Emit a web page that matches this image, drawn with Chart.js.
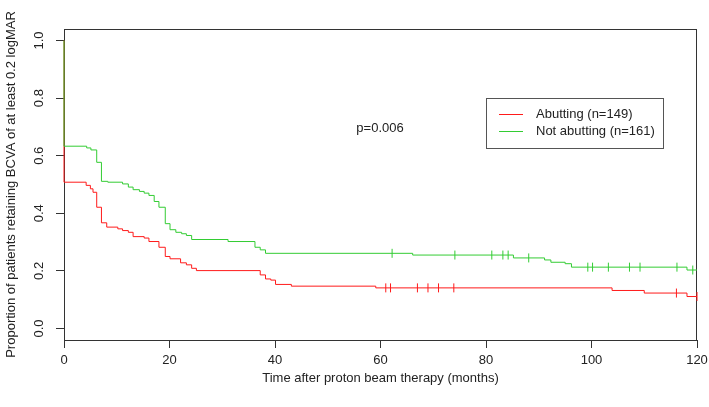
<!DOCTYPE html>
<html><head><meta charset="utf-8">
<script src="https://cdn.jsdelivr.net/npm/chart.js@4"></script>
<style>html,body{margin:0;padding:0;background:#fff}canvas{display:block}</style>
</head><body>
<canvas id="c" width="709" height="407"></canvas>
<script>
const xTicks = [0, 20, 40, 60, 80, 100, 120];
const yTicks = [0, 0.2, 0.4, 0.6, 0.8, 1.0];
const seriesNames = ['Abutting (n=149)', 'Not abutting (n=161)'];
const pValueText = 'p=0.006';
const xTitle = 'Time after proton beam therapy (months)';
const yTitle = 'Proportion of patients retaining BCVA of at least 0.2 logMAR';

const abutTimes = [0, 0, 4.2, 5.0, 5.5, 6.2, 7.1, 8.1, 10.2, 11.1, 12.2, 13.1, 15.2, 16.1, 18.0, 19.2, 20.1, 22.1, 23.2, 24.2, 25.1, 37.2, 38.2, 39.2, 40.1, 43.1, 59.1, 103.9, 110.0, 118.1, 120];
const abutSurv  = [1, 0.508, 0.497, 0.485, 0.473, 0.421, 0.367, 0.352, 0.346, 0.340, 0.334, 0.319, 0.314, 0.302, 0.282, 0.250, 0.242, 0.228, 0.221, 0.209, 0.201, 0.186, 0.172, 0.168, 0.153, 0.147, 0.141, 0.132, 0.123, 0.111, 0.111];
const abutCensor = [61.0, 61.9, 67.0, 69.0, 71.0, 73.9, 116.1, 120];

const notTimes = [0, 0, 4.3, 5.1, 6.2, 7.1, 8.3, 11.1, 12.2, 13.1, 14.3, 15.2, 16.1, 17.1, 18.0, 19.2, 20.1, 21.2, 22.3, 23.2, 24.2, 31.1, 36.2, 37.2, 38.2, 66.1, 85.2, 91.1, 92.3, 95.0, 96.2, 118.1, 120];
const notSurv  = [1, 0.633, 0.627, 0.620, 0.577, 0.511, 0.508, 0.502, 0.491, 0.482, 0.476, 0.470, 0.462, 0.441, 0.421, 0.364, 0.343, 0.334, 0.329, 0.323, 0.309, 0.302, 0.282, 0.273, 0.261, 0.255, 0.245, 0.238, 0.230, 0.225, 0.213, 0.203, 0.203];
const notCensor = [62.2, 74.1, 81.1, 83.2, 84.2, 88.1, 99.3, 100.2, 103.2, 107.2, 109.2, 116.2, 119.2];

const RED = '#FF1A1A';
const GREEN = '#33CC33';
const AXIS = '#333333';
const TXT = '#222222';
const FONT = "'Liberation Sans', Arial, sans-serif";

function stepPoints(times, surv) { return times.map((t, i) => ({x: t, y: surv[i]})); }
function survAt(times, surv, t) {
  let v = surv[0];
  for (let i = 0; i < times.length; i++) { if (times[i] <= t) v = surv[i]; }
  return v;
}
function censorPoints(cens, times, surv) { return cens.map(t => ({x: t, y: survAt(times, surv, t)})); }

const boxPlugin = {
  id: 'boxAndLegend',
  beforeDatasetsDraw(chart) {
    const {ctx, chartArea: a} = chart;
    ctx.save();
    ctx.strokeStyle = AXIS;
    ctx.lineWidth = 1;
    ctx.strokeRect(Math.round(a.left) + 0.5, Math.round(a.top) + 0.5, Math.round(a.right - a.left) - 1, Math.round(a.bottom - a.top));
    ctx.restore();
  },
  afterDraw(chart) {
    const {ctx} = chart;
    ctx.save();
    ctx.lineWidth = 1;
    ctx.fillStyle = TXT;
    ctx.font = '13px ' + FONT;
    ctx.textAlign = 'center';
    ctx.textBaseline = 'middle';
    ctx.fillText(pValueText, 380, 128);
    ctx.strokeStyle = '#555';
    ctx.strokeRect(486.5, 98.5, 177, 50);
    const rows = [{c: RED, t: seriesNames[0], y: 114.5}, {c: GREEN, t: seriesNames[1], y: 131.5}];
    rows.forEach(r => {
      ctx.strokeStyle = r.c;
      ctx.beginPath(); ctx.moveTo(499, r.y); ctx.lineTo(523, r.y); ctx.stroke();
      ctx.fillStyle = TXT;
      ctx.textAlign = 'left';
      ctx.fillText(r.t, 536, r.y);
    });
    ctx.restore();
  }
};

new Chart(document.getElementById('c'), {
  type: 'line',
  data: {
    datasets: [
      {label: seriesNames[1], data: stepPoints(notTimes, notSurv), borderColor: GREEN, borderWidth: 1, pointRadius: 0, stepped: true, order: 0, clip: false},
      {label: seriesNames[0], data: stepPoints(abutTimes, abutSurv), borderColor: RED, borderWidth: 1, pointRadius: 0, stepped: true, order: 1, clip: false},
      {type: 'scatter', label: 'nc', data: censorPoints(notCensor, notTimes, notSurv), borderColor: GREEN, backgroundColor: GREEN, pointStyle: 'line', rotation: 90, pointRadius: 4.5, borderWidth: 1, showLine: false, order: 0, clip: false},
      {type: 'scatter', label: 'ac', data: censorPoints(abutCensor, abutTimes, abutSurv), borderColor: RED, backgroundColor: RED, pointStyle: 'line', rotation: 90, pointRadius: 4.5, borderWidth: 1, showLine: false, order: 1, clip: false}
    ]
  },
  options: {
    responsive: false,
    animation: false,
    events: [],
    layout: {padding: {left: 0, top: 29, right: 12, bottom: 0}},
    plugins: {legend: {display: false}, tooltip: {enabled: false}},
    scales: {
      x: {
        type: 'linear', min: 0, max: 120,
        afterBuildTicks: s => { s.ticks = xTicks.map(v => ({value: v})); },
        afterFit: s => { s.height = 67; s.paddingLeft = 0; s.paddingRight = 0; },
        grid: {drawOnChartArea: false, drawTicks: true, tickLength: 8, color: AXIS},
        border: {display: true, color: AXIS},
        ticks: {color: TXT, font: {family: FONT, size: 13}, padding: 5, maxRotation: 0, autoSkip: false},
        title: {display: true, text: xTitle, color: TXT, font: {family: FONT, size: 13}, padding: {top: 0, bottom: 21}}
      },
      y: {
        type: 'linear', min: -0.04, max: 1.04,
        afterBuildTicks: s => { s.ticks = yTicks.map(v => ({value: v})); },
        afterFit: s => { s.width = 64; s.paddingTop = 0; s.paddingBottom = 0; },
        grid: {drawOnChartArea: false, drawTicks: true, tickLength: 8, color: AXIS},
        border: {display: true, color: AXIS},
        ticks: {color: TXT, font: {family: FONT, size: 13}, padding: 8, minRotation: 90, maxRotation: 90, crossAlign: 'center', autoSkip: false, callback: v => v.toFixed(1)},
        title: {display: true, text: yTitle, color: TXT, font: {family: FONT, size: 13}, padding: {top: 4, bottom: 0}}
      }
    }
  },
  plugins: [boxPlugin]
});
</script>
</body></html>
